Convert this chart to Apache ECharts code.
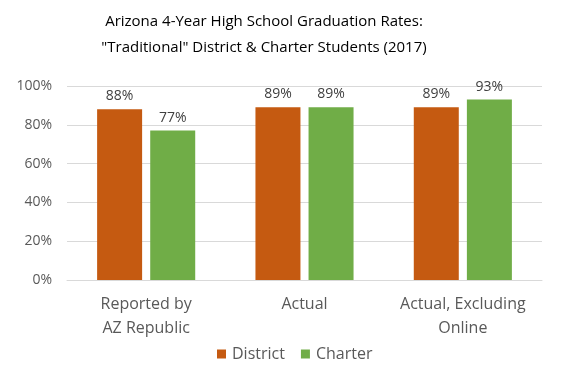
<!DOCTYPE html>
<html><head><meta charset="utf-8">
<script src="https://cdn.jsdelivr.net/npm/echarts@6/dist/echarts.min.js"></script>
<style>html,body{margin:0;padding:0;background:#fff}#c{width:565px;height:368px}</style>
</head><body><div id="c"></div>
<script>
const categories = ["Reported by\nAZ Republic", "Actual", "Actual, Excluding\nOnline"];
const districtValues = [88, 89, 89];
const charterValues = [77, 89, 93];
const yTicks = [0, 20, 40, 60, 80, 100];
const titleText = "Arizona 4-Year High School Graduation Rates:\n\"Traditional\" District & Charter Students (2017)";
const font = "'Open Sans', 'Noto Sans', sans-serif";
const chart = echarts.init(document.getElementById('c'), null, {renderer: 'canvas'});
chart.setOption({
  animation: false,
  textStyle: {fontFamily: font},
  title: {
    text: titleText, left: 259, textAlign: 'center', top: 4,
    textStyle: {fontFamily: font, fontSize: 15, fontWeight: 'normal', color: '#000', lineHeight: 26}
  },
  legend: {
    top: 341, left: 212, itemWidth: 9, itemHeight: 9, itemGap: 16, icon: 'rect',
    textStyle: {fontFamily: font, fontSize: 16, color: '#595959', padding: [0, 0, 0, 1]},
    data: ['District', 'Charter']
  },
  grid: {left: 67, right: 23, top: 86, bottom: 88},
  xAxis: {
    type: 'category', data: categories,
    axisLine: {lineStyle: {color: '#d9d9d9'}},
    axisTick: {show: false},
    axisLabel: {interval: 0, fontFamily: font, fontSize: 16, color: '#595959', lineHeight: 24, margin: 12}
  },
  yAxis: {
    type: 'value', min: 0, max: 100, interval: 20,
    axisLine: {show: false}, axisTick: {show: false},
    splitLine: {lineStyle: {color: '#d9d9d9'}},
    axisLabel: {fontFamily: font, fontSize: 14, color: '#595959', margin: 15,
      formatter: v => yTicks.includes(v) ? v + '%' : ''}
  },
  series: [
    {name: 'District', type: 'bar', data: districtValues, barWidth: 45, barGap: '18%',
     itemStyle: {color: '#C55A11'},
     label: {show: true, position: 'top', distance: 6, formatter: '{c}%', fontFamily: font, fontSize: 14, color: '#404040'}},
    {name: 'Charter', type: 'bar', data: charterValues, barWidth: 45,
     itemStyle: {color: '#70AD47'},
     label: {show: true, position: 'top', distance: 6, formatter: '{c}%', fontFamily: font, fontSize: 14, color: '#404040'}}
  ]
});
</script></body></html>
